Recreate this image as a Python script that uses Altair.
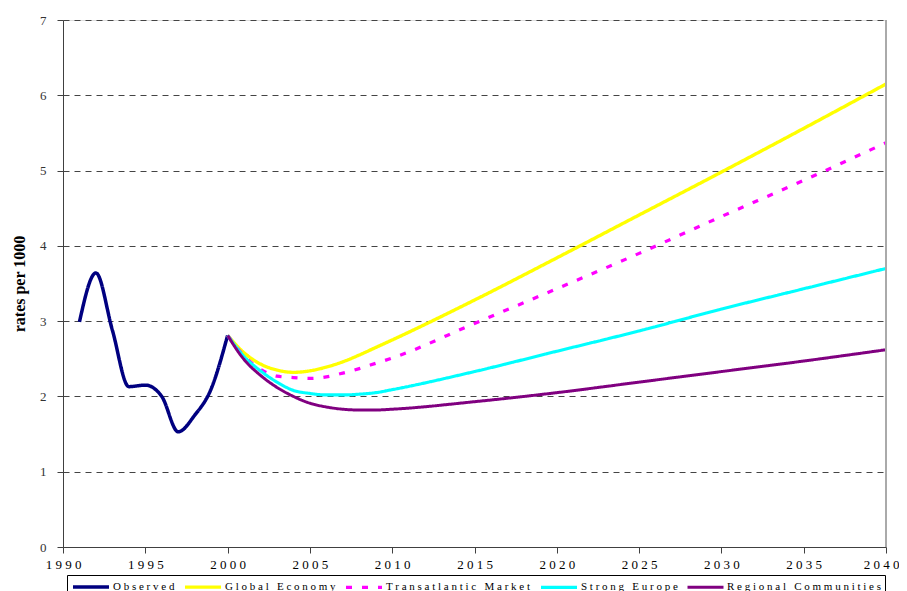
import altair as alt
import pandas as pd

# ---- data ----
obs_years = [1991, 1992, 1993, 1994, 1995, 1996, 1997, 1998, 1999, 2000]
observed = [2.99, 3.64, 2.88, 2.13, 2.15, 2.00, 1.53, 1.75, 2.10, 2.81]

proj_years = [2000, 2001, 2002, 2003, 2004, 2005, 2006, 2007, 2008, 2009, 2010,
              2015, 2020, 2025, 2030, 2035, 2040]
global_economy = [2.81, 2.58, 2.43, 2.35, 2.32, 2.34, 2.39, 2.46, 2.55, 2.65, 2.75,
                  3.28, 3.84, 4.41, 4.98, 5.56, 6.15]
transatlantic = [2.81, 2.54, 2.36, 2.27, 2.25, 2.24, 2.26, 2.31, 2.37, 2.44, 2.51,
                 2.97, 3.43, 3.90, 4.39, 4.87, 5.37]
strong_europe = [2.81, 2.53, 2.34, 2.19, 2.08, 2.04, 2.02, 2.02, 2.03, 2.05, 2.09,
                 2.33, 2.60, 2.87, 3.16, 3.43, 3.70]
regional = [2.81, 2.49, 2.28, 2.12, 2.00, 1.91, 1.86, 1.83, 1.82, 1.82, 1.83,
            1.93, 2.05, 2.19, 2.33, 2.47, 2.62]

series_names = ["Observed", "Global Economy", "Transatlantic Market",
                "Strong Europe", "Regional Communities"]
series_colors = ["#000080", "#FFFF00", "#FF00FF", "#00FFFF", "#800080"]
series_dash = [[1, 0], [1, 0], [6, 10], [1, 0], [1, 0]]
series_width = [3.5, 3, 3, 3, 3]

x_ticks = [1990, 1995, 2000, 2005, 2010, 2015, 2020, 2025, 2030, 2035, 2040]
y_ticks = [0, 1, 2, 3, 4, 5, 6, 7]

rows = []
for y, v in zip(obs_years, observed):
    rows.append({"year": y, "value": v, "series": "Observed"})
for name, vals in zip(series_names[1:], [global_economy, transatlantic, strong_europe, regional]):
    for y, v in zip(proj_years, vals):
        rows.append({"year": y, "value": v, "series": name})
df = pd.DataFrame(rows)

FONT = "Liberation Serif"
NBSP = "\u00a0"
spaced_label = "join(split(replace(datum.label, ' ', '" + NBSP + "'), ''), ' ')"

x_enc = alt.X("year:Q",
              scale=alt.Scale(domain=[1990, 2040], nice=False, zero=False),
              axis=alt.Axis(values=x_ticks, format="d", title=None, grid=False,
                            labelExpr="join(split(datum.label, ''), ' ')",
                            labelFont=FONT, labelFontSize=13, labelColor="#000",
                            labelAlign=alt.condition("datum.value == 2040",
                                                     alt.value("right"), alt.value("center")),
                            labelOffset=alt.condition("datum.value == 2040",
                                                      alt.value(13), alt.value(0)),
                            domainColor="#404040", tickColor="#404040",
                            tickSize=6, labelPadding=5, labelFlush=False))
y_enc = alt.Y("value:Q",
              scale=alt.Scale(domain=[0, 7], nice=False),
              axis=alt.Axis(values=y_ticks, title="rates per 1000",
                            titleFont=FONT, titleFontSize=16, titleFontWeight="bold",
                            titleColor="#000", titlePadding=12,
                            labelFont=FONT, labelFontSize=13, labelColor="#333",
                            domainColor="#404040", tickColor="#404040",
                            tickSize=6, labelPadding=11,
                            grid=True, gridColor="#444", gridDash=[6, 5],
                            gridWidth=1))

lines = alt.Chart(df).mark_line(interpolate="monotone").encode(
    x=x_enc,
    y=y_enc,
    color=alt.Color("series:N",
                    scale=alt.Scale(domain=series_names, range=series_colors),
                    legend=alt.Legend(title=None, orient="none", legendX=4, legendY=555,
                                      direction="horizontal",
                                      strokeColor="black", padding=4,
                                      fillColor="white",
                                      symbolType="M-3,0H3", symbolSize=144,
                                      symbolOffset=12,
                                      symbolStrokeWidth=3,
                                      labelExpr=spaced_label,
                                      labelFont=FONT, labelFontSize=11,
                                      labelColor="#000",
                                      columnPadding=3, labelOffset=14)),
    strokeDash=alt.StrokeDash("series:N",
                              scale=alt.Scale(domain=series_names, range=series_dash),
                              legend=alt.Legend(title=None)),
    strokeWidth=alt.StrokeWidth("series:N",
                                scale=alt.Scale(domain=series_names, range=series_width),
                                legend=None),
    detail="series:N",
)

border = alt.Chart(df).mark_rule(color="#aaaaaa", strokeWidth=1.5).encode(
    x=alt.datum(2040)
)

chart = alt.layer(lines, border).properties(
    width=823, height=527,
    autosize=alt.AutoSizeParams(type="none"),
    padding={"left": 55, "top": 12, "right": 13, "bottom": 52},
).configure_view(stroke=None).configure(background="white")

chart.save("out.html", embed_options={"renderer": "svg", "actions": False})
